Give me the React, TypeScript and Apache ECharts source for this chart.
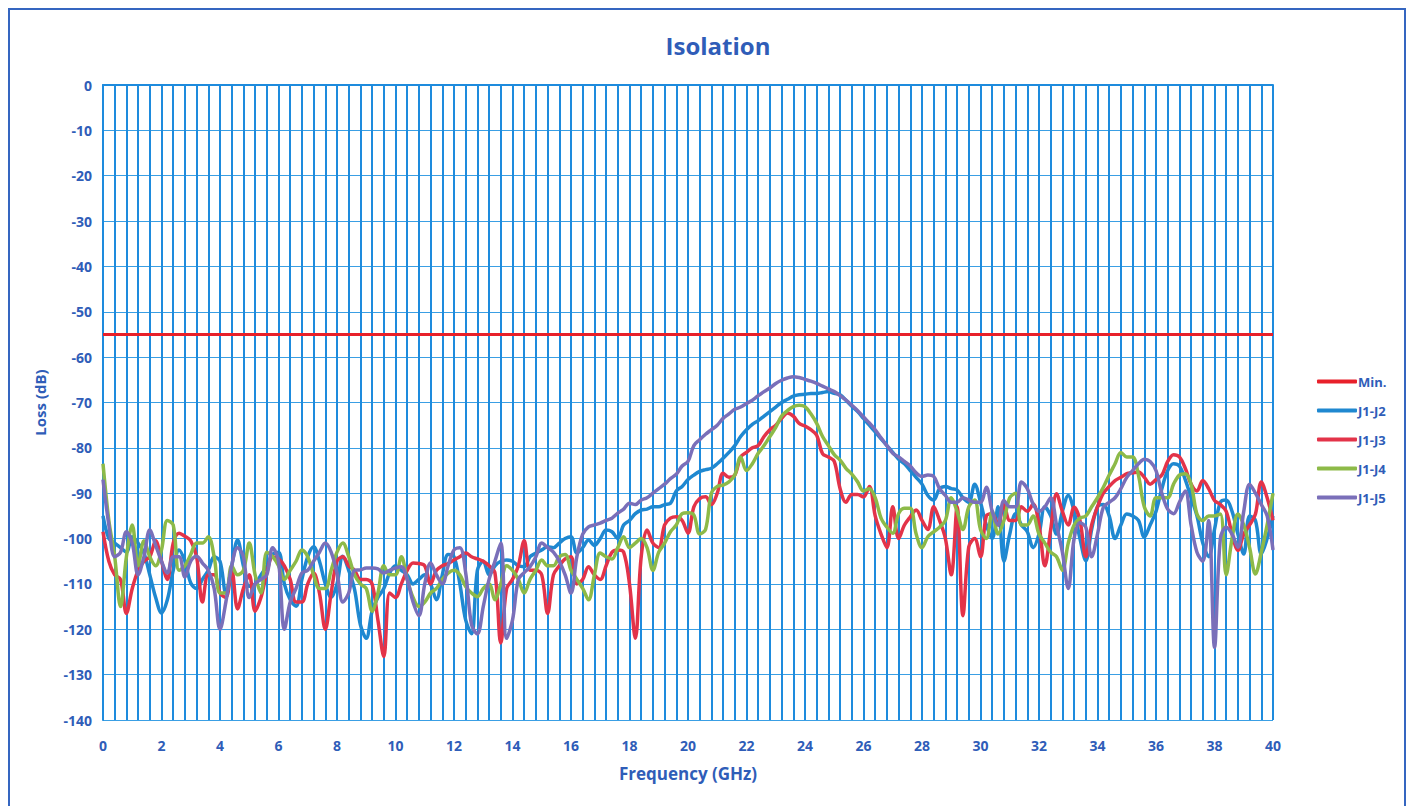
import React, { useEffect, useRef } from "react";
import * as echarts from "echarts";

const FREQ_STEP = 0.2;
const X_TICK_LABELS = ["0","2","4","6","8","10","12","14","16","18","20","22","24","26","28","30","32","34","36","38","40"];
const SERIES_NAMES = ["Min.", "J1-J2", "J1-J3", "J1-J4", "J1-J5"];
const MIN_LIMIT = [-55, -55];

const J1_J2 = [
  -95,-100,-101,-102,-103,-99.6,-101,-103.2,-108,-113,
  -116.4,-113.5,-107,-102.5,-105,-109.8,-111,-109,-107,-104,
  -105,-112,-106,-100.3,-106,-110.5,-110,-108,-106.1,-103.5,
  -103,-110,-113.5,-114.9,-109,-104,-101.8,-105,-110,-113,
  -110,-103.9,-107,-111.2,-119,-122,-116,-113,-111,-107.6,
  -106,-107,-108,-110,-109,-108,-110,-113.5,-108,-103.5,
  -104,-110,-118,-121,-107,-105,-108,-106,-105,-104.7,
  -105,-106,-106.2,-104,-103.2,-102.5,-101.8,-102,-101,-100,
  -99.6,-103.2,-102,-100.3,-101.5,-100,-98.1,-98.5,-100,-97,
  -96,-94.5,-93.7,-93.5,-93,-93,-92.5,-92.2,-89.5,-88.5,
  -87,-86,-85.2,-84.8,-84.5,-83.5,-82.3,-81,-79.5,-77.5,
  -76,-74.8,-74,-73,-72,-71,-70,-69.3,-68.6,-68.3,
  -68.2,-68,-68,-67.8,-67.6,-68,-68.3,-69.5,-70.8,-72,
  -73.5,-75,-76.5,-78,-79.5,-81,-82.5,-83.5,-85,-86.5,
  -88,-90.5,-91.5,-89,-88.5,-89,-89.3,-91,-92,-88,
  -92,-97,-100,-93,-105,-99,-94.5,-97,-98.5,-102,
  -99,-93,-95,-99,-94,-90.5,-94,-100,-104.9,-98,
  -93,-92.5,-95,-100,-97,-94.6,-95,-96,-99.7,-97,
  -94,-89,-85,-83.5,-84,-87,-91,-95,-101,-104,
  -98,-92,-91.5,-94,-99,-103.4,-95,-96,-103.4,-100,
  -95
];

const J1_J3 = [
  -98.5,-105,-108,-109,-116.5,-111,-107,-105,-104,-100.5,
  -105,-109,-101,-98.8,-99.5,-100.5,-104,-114,-108,-108,
  -112,-113,-107,-115.5,-111,-108,-116,-113,-107.6,-104,
  -104.5,-106,-109,-114,-114,-110,-107.6,-112,-120,-112,
  -105,-104,-106,-107,-109,-109,-110,-118,-126,-112,
  -113,-110,-107,-105.4,-105.5,-106,-110,-107,-106,-105.5,
  -104.7,-104,-103.2,-104,-104.5,-105,-106,-107.6,-123,-111,
  -109,-106,-100.5,-107,-107,-108,-116.5,-108,-106,-104.5,
  -104,-110,-109,-106.2,-108,-109,-106,-103,-102.5,-103,
  -110,-122,-104,-98.1,-101,-102,-97,-95.5,-95.2,-96,
  -98.8,-93,-91.2,-90.8,-92.5,-90,-85.6,-86.5,-86,-82,
  -81,-80,-79.5,-77.5,-76,-75,-73.5,-72.3,-73,-74.6,
  -75.2,-76,-77.2,-81.3,-82,-83,-89,-92,-90.3,-90.3,
  -90.8,-88.5,-95,-99,-102,-93,-100,-97,-95.2,-93.7,
  -96,-98,-93,-96,-100,-108,-93,-117,-101.8,-100,
  -104,-95,-94.5,-97,-92.5,-96,-96,-93,-94,-92.4,
  -97,-106,-98,-90.1,-94,-97,-93.1,-96,-104,-97,
  -93,-90,-88.5,-87.2,-86.5,-85.7,-85.5,-85.3,-86.5,-88,
  -87,-86,-83,-81.5,-82,-84.5,-88,-89.5,-87.2,-89,
  -91.6,-92.5,-94,-99,-102.6,-99,-97,-94.6,-87.5,-91,
  -96
];

const J1_J4 = [
  -83.5,-96,-104,-115,-104,-97,-106,-100.5,-104,-106,
  -102.5,-96,-97,-107,-106,-103.5,-101,-101,-99.6,-104,
  -112,-112,-106,-108,-107,-101,-108,-112,-103,-104,
  -106,-109,-107,-105,-102.5,-104,-108,-111,-111,-107,
  -103,-101,-104,-108,-110,-111,-116,-112,-106,-108,
  -108,-104,-109,-113,-115,-114,-112,-111,-109,-107.6,
  -107,-108,-110.6,-112,-112.8,-111,-110,-113.5,-110,-106,
  -107,-109,-112,-109,-107,-104.7,-106,-106,-104,-103.5,
  -107,-109,-111,-113.5,-108,-103.2,-104,-104.5,-102,-99.6,
  -102,-101,-100,-102,-107,-103,-101,-98.5,-97,-94.5,
  -94.3,-94.8,-99,-98,-90,-88.5,-88.2,-87.5,-86,-82,
  -85,-83.5,-81.2,-79.5,-77.5,-75.5,-73,-71.8,-70.9,-70.6,
  -70.9,-72.5,-74.6,-77.5,-79.5,-81.5,-82.7,-84.5,-85.8,-87.5,
  -89.5,-89,-91,-95.5,-97.5,-98.8,-94.5,-93.3,-93.3,-99,
  -102,-99.6,-98.5,-97.5,-96,-91,-94,-98,-93,-91.5,
  -98,-100,-94,-99,-96,-91,-90,-97,-97,-95,
  -99,-101,-103,-104,-107,-101,-97,-95.5,-95,-93,
  -91,-88.7,-86,-83.5,-81,-82,-82,-86,-93,-95,
  -91,-91,-91,-88,-86,-85.7,-88,-94.6,-96,-95,
  -95,-94.6,-108,-100,-94.6,-97,-102,-107.8,-103,-97,
  -90
];

const J1_J5 = [
  -87,-97,-104,-103,-98.5,-101,-108,-104,-98.1,-101.5,
  -105,-107.6,-104,-104,-108.5,-105,-103.9,-105.4,-107,-111,
  -120,-114,-106,-102,-104,-113,-110,-109,-108,-102,
  -105,-120,-114,-111,-107.6,-107,-105,-103,-101,-103,
  -107.6,-114,-112,-107,-106.9,-106.5,-106.5,-106.7,-107.6,-107,
  -106.5,-106.2,-109,-114,-117,-110,-105.4,-108,-110,-106,
  -102.5,-102,-107.6,-119,-121,-115,-109,-105,-101,-122,
  -118,-109,-107.5,-106.2,-104,-101,-102,-103,-105,-108,
  -112,-104,-99,-97.4,-97,-96.6,-96,-95.5,-94.4,-93.5,
  -92.2,-92.5,-91.5,-91,-90,-89,-88,-86.8,-85.8,-84,
  -83,-79.5,-78.2,-77,-76,-75,-73.5,-72.5,-71.5,-71,
  -70.2,-69.5,-68.5,-67.6,-66.8,-65.8,-65.1,-64.6,-64.3,-64.5,
  -64.9,-65.3,-65.8,-66.4,-67,-67.6,-68.5,-69.5,-70.6,-71.8,
  -73.2,-74.5,-76,-77.8,-79.5,-81.2,-82,-83,-84,-85.5,
  -86.3,-86,-86.3,-89,-90.5,-92,-92,-91,-91.5,-92,
  -92,-88.7,-94,-97,-91.6,-93,-93,-87.5,-89,-92.4,
  -94,-93,-91,-97,-103,-111,-100,-96.5,-97.5,-104,
  -99,-93.1,-92,-91,-89,-86.5,-85,-83.5,-82.5,-83,
  -85,-90,-93.5,-94.5,-92,-89.5,-97,-103,-105,-96,
  -124,-100,-97.5,-99,-101.9,-94,-88,-90,-92.5,-95,
  -102.5
];

const COLORS = ["#E8202A", "#1F88D0", "#E33349", "#8DBA48", "#7A6FB9"];
const TEXT_BLUE = "#2F5DB8";

function toPoints(values: number[]) {
  return values.map((v, i) => [Math.round(i * FREQ_STEP * 10) / 10, v]);
}

export default function App() {
  const ref = useRef<HTMLDivElement>(null);
  useEffect(() => {
    if (!ref.current) return;
    const chart = echarts.init(ref.current, null, { renderer: "svg" });
    const seriesValues = [J1_J2, J1_J3, J1_J4, J1_J5];
    const lineSeries: any[] = [
      {
        name: SERIES_NAMES[0],
        type: "line",
        data: [[0, MIN_LIMIT[0]], [40, MIN_LIMIT[1]]],
        showSymbol: false,
        lineStyle: { width: 3, color: COLORS[0] },
        itemStyle: { color: COLORS[0] },
      },
      ...seriesValues.map((vals, k) => ({
        name: SERIES_NAMES[k + 1],
        type: "line",
        data: toPoints(vals),
        showSymbol: false,
        smooth: 0.35,
        lineStyle: { width: 3.5, color: COLORS[k + 1] },
        itemStyle: { color: COLORS[k + 1] },
      })),
    ];
    chart.setOption({
      animation: false,
      backgroundColor: "#ffffff",
      title: {
        text: "Isolation",
        left: 713,
        top: 28,
        textAlign: "center",
        textStyle: { fontFamily: "Open Sans", fontWeight: "bold", fontSize: 24, color: TEXT_BLUE },
      },
      graphic: [
        {
          type: "rect",
          shape: { x: 9, y: 9, width: 1396, height: 820 },
          style: { fill: "none", stroke: "#3566C0", lineWidth: 2 },
          silent: true,
        },
      ],
      legend: {
        orient: "vertical",
        left: 1312,
        top: 370,
        itemWidth: 40,
        itemHeight: 4,
        itemGap: 16,
        icon: "roundRect",
        data: SERIES_NAMES,
        textStyle: { fontFamily: "Open Sans", fontWeight: "bold", fontSize: 13, color: TEXT_BLUE, padding: [0, 0, 0, -4] },
      },
      grid: { left: 103, right: 139, top: 85, bottom: 86, containLabel: false },
      xAxis: {
        type: "value",
        min: 0,
        max: 40,
        interval: 0.4,
        name: "Frequency (GHz)",
        nameLocation: "middle",
        nameGap: 45,
        nameTextStyle: { fontFamily: "Open Sans", fontWeight: "bold", fontSize: 17, color: TEXT_BLUE },
        axisLine: { lineStyle: { color: "#1E8BDD", width: 2 } },
        axisTick: { show: false },
        axisLabel: {
          fontFamily: "Open Sans",
          fontWeight: "bold",
          fontSize: 14,
          color: TEXT_BLUE,
          margin: 18,
          formatter: (v: number) => {
            const r = Math.round(v);
            if (Math.abs(v - r) < 1e-6 && r % 2 === 0) {
              const lbl = X_TICK_LABELS[r / 2];
              return lbl ?? "";
            }
            return "";
          },
        },
        splitLine: { show: true, lineStyle: { color: "#1E8BDD", width: 2 } },
      },
      yAxis: {
        type: "value",
        min: -140,
        max: 0,
        interval: 10,
        name: "Loss (dB)",
        nameLocation: "middle",
        nameGap: 56,
        nameTextStyle: { fontFamily: "Open Sans", fontWeight: "bold", fontSize: 15, color: TEXT_BLUE },
        axisLine: { show: true, lineStyle: { color: "#1E8BDD", width: 2 } },
        axisTick: { show: false },
        axisLabel: { fontFamily: "Open Sans", fontWeight: "bold", fontSize: 14, color: TEXT_BLUE, margin: 11 },
        splitLine: { show: true, lineStyle: { color: "#3A9FE4", width: 1.2 } },
      },
      series: lineSeries,
    });
    return () => chart.dispose();
  }, []);
  return (
    <div
      ref={ref}
      style={{ position: "fixed", left: 0, top: 0, width: 1412, height: 806, background: "#fff" }}
    />
  );
}
